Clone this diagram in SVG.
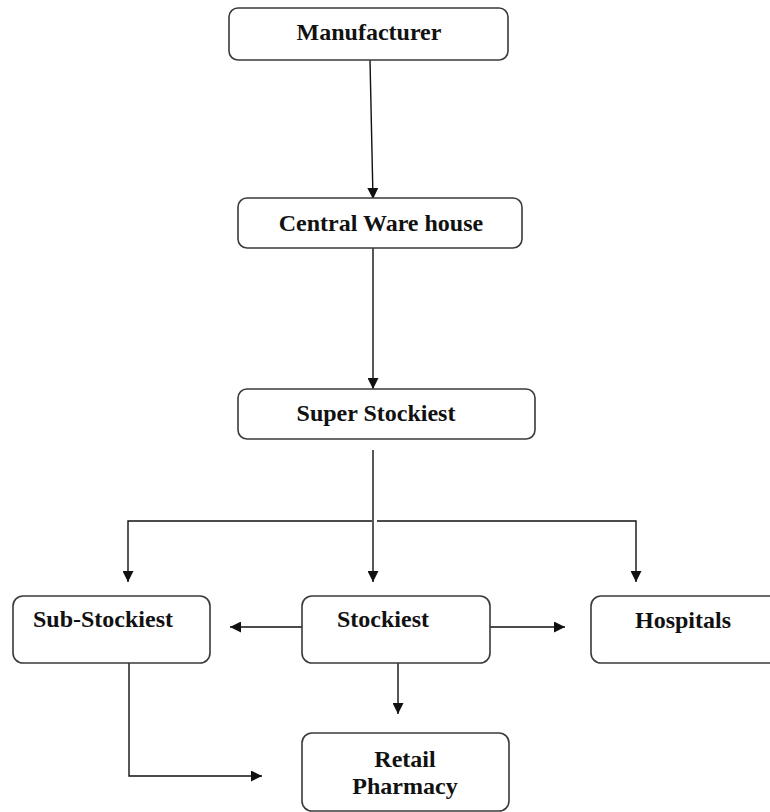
<svg xmlns="http://www.w3.org/2000/svg" width="770" height="812" viewBox="0 0 770 812">
<defs>
<style>
.box{fill:#fff;stroke:#3a3a3a;stroke-width:1.6}
.lbl{font-family:"Liberation Serif","Times New Roman",serif;font-weight:bold;font-size:24px;fill:#111;text-anchor:middle}
.ln{fill:none;stroke:#111;stroke-width:1.4}
</style>
<marker id="ah" viewBox="0 0 10 10" refX="10" refY="5" markerWidth="11" markerHeight="11" markerUnits="userSpaceOnUse" orient="auto">
<path d="M0,0 L10,5 L0,10 Z" fill="#111"/>
</marker>
</defs>
<rect width="770" height="812" fill="#fff"/>
<g id="connectors">
<line class="ln" x1="370" y1="60" x2="373" y2="199" marker-end="url(#ah)"/>
<line class="ln" x1="373" y1="248" x2="373" y2="389" marker-end="url(#ah)"/>
<line class="ln" x1="373" y1="450" x2="373" y2="582" marker-end="url(#ah)"/>
<polyline class="ln" points="372,521 128,521 128,582" marker-end="url(#ah)"/>
<polyline class="ln" points="377,521 636,521 636,582" marker-end="url(#ah)"/>
<line class="ln" x1="302" y1="627" x2="230" y2="627" marker-end="url(#ah)"/>
<line class="ln" x1="490" y1="627" x2="565" y2="627" marker-end="url(#ah)"/>
<line class="ln" x1="398" y1="663" x2="398" y2="714" marker-end="url(#ah)"/>
<polyline class="ln" points="129,663 129,776 262,776" marker-end="url(#ah)"/>
</g>
<g id="manufacturer">
<rect class="box" x="229" y="8" width="279" height="52" rx="9"/>
<text class="lbl" x="369" y="40">Manufacturer</text>
</g>
<g id="central-warehouse">
<rect class="box" x="238" y="198" width="284" height="50" rx="9"/>
<text class="lbl" x="381" y="231">Central Ware house</text>
</g>
<g id="super-stockiest">
<rect class="box" x="238" y="389" width="297" height="50" rx="9"/>
<text class="lbl" x="376" y="421">Super Stockiest</text>
</g>
<g id="sub-stockiest">
<rect class="box" x="13" y="596" width="197" height="67" rx="10"/>
<text class="lbl" x="103" y="627">Sub-Stockiest</text>
</g>
<g id="stockiest">
<rect class="box" x="302" y="596" width="188" height="67" rx="10"/>
<text class="lbl" x="383" y="627">Stockiest</text>
</g>
<g id="hospitals">
<rect class="box" x="591" y="596" width="200" height="67" rx="10"/>
<text class="lbl" x="683" y="628">Hospitals</text>
</g>
<g id="retail-pharmacy">
<rect class="box" x="302" y="733" width="207" height="78" rx="10"/>
<text class="lbl" x="405" y="767">Retail</text>
<text class="lbl" x="405" y="794">Pharmacy</text>
</g>
</svg>
